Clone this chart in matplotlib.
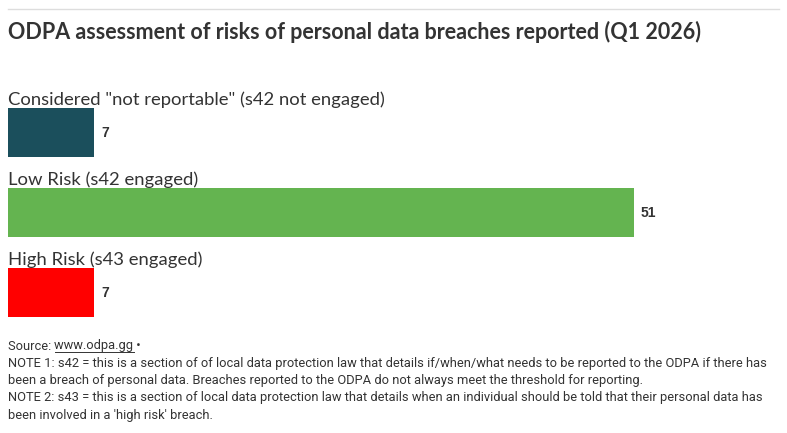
import matplotlib
matplotlib.use("Agg")
import matplotlib.pyplot as plt

categories = ['Considered "not reportable" (s42 not engaged)',
              'Low Risk (s42 engaged)',
              'High Risk (s43 engaged)']
values = [7, 51, 7]
colors = ['#1b4f5c', '#64b450', '#ff0000']
title = "ODPA assessment of risks of personal data breaches reported (Q1 2026)"
source_prefix = "Source: "
source_link = "www.odpa.gg"
notes = ["NOTE 1: s42 = this is a section of of local data protection law that details if/when/what needs to be reported to the ODPA if there has",
         "been a breach of personal data. Breaches reported to the ODPA do not always meet the threshold for reporting.",
         "NOTE 2: s43 = this is a section of local data protection law that details when an individual should be told that their personal data has",
         "been involved in a 'high risk' breach."]

W, H = 787, 433
fig = plt.figure(figsize=(W/100, H/100), dpi=100)
FONT = ['Lato', 'DejaVu Sans']
NARROW = ['Roboto', 'DejaVu Sans']

def px(x, y):
    return x / W, 1 - y / H

# top rule
fig.add_artist(plt.Line2D([8/W, 779/W], [1-9/H, 1-9/H], color='#dddddd', lw=1))
fig.text(*px(8, 32), title, fontsize=15.5, fontweight='bold', color='#333333',
         family=FONT, va='center', ha='left')

# axes: x from 8 to 779 px, y from 60 to 330 px
ax = fig.add_axes([8/W, 1-330/H, 771/W, 270/H])
scale = 626 / 51  # px per unit
ax.set_xlim(0, 771 / scale)
top_y = (60 - 132.5) / 80
bot_y = (330 - 132.5) / 80
ax.set_ylim(bot_y, top_y)
ypos = list(range(len(values)))
ax.barh(ypos, values, height=49/80, color=colors, align='center')
for y, v, c in zip(ypos, values, categories):
    ax.text(v + 7/scale, y, str(v), va='center', ha='left', fontsize=10,
            fontweight='bold', color='#333333', family=['Liberation Sans', 'DejaVu Sans'])
    ax.text(0, y - 0.41, c, va='center', ha='left', fontsize=13.3,
            color='#333333', family=FONT)
ax.axis('off')

# footer
t = fig.text(*px(8, 346), source_prefix, fontsize=9.3, color='#333333',
             family=NARROW, va='center', ha='left')
fig.canvas.draw()
r = fig.canvas.get_renderer()
bb = t.get_window_extent(r)
t2 = fig.text(bb.x1 / W, 1 - 346 / H, source_link + " •", fontsize=9.3, color='#333333',
              family=NARROW, va='center', ha='left')
t3 = fig.text(bb.x1 / W, 1 - 346 / H, source_link, fontsize=9.3, color='#333333',
              family=NARROW, va='center', ha='left', alpha=0)
bb3 = t3.get_window_extent(r)
fig.add_artist(plt.Line2D([bb3.x0/W, bb3.x1/W], [(bb3.y0+1)/H]*2, color='#333333', lw=0.7))
for i, line in enumerate(notes):
    fig.text(*px(8, 363 + i * 17.4), line, fontsize=9.3, color='#333333',
             family=NARROW, va='center', ha='left')

fig.savefig('out.png', dpi=100)
